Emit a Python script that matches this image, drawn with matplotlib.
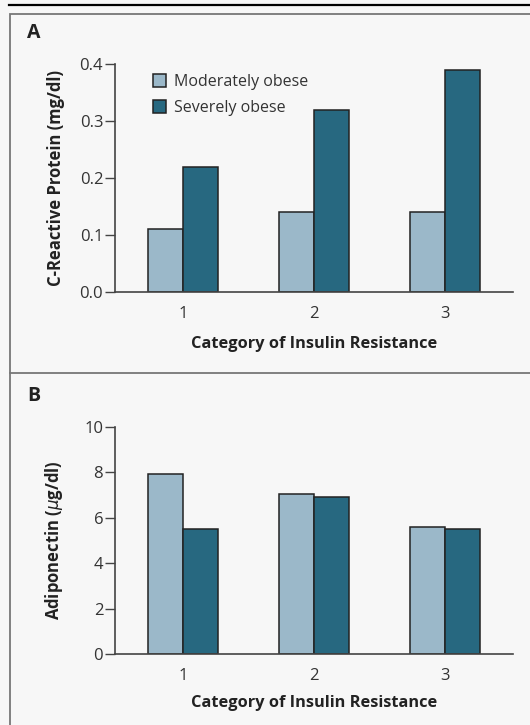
import matplotlib.pyplot as plt
from matplotlib.lines import Line2D
from matplotlib.patches import Rectangle

plt.rcParams['font.family'] = ['Open Sans', 'DejaVu Sans']

categories = [1, 2, 3]
groups = ['Moderately obese', 'Severely obese']
crp_moderate = [0.11, 0.14, 0.14]
crp_severe = [0.22, 0.32, 0.39]
adipo_moderate = [7.95, 7.05, 5.6]
adipo_severe = [5.5, 6.9, 5.5]

light = '#9bb8c9'
dark = '#276880'
bg = '#f7f7f7'
axcol = '#444444'

fig = plt.figure(figsize=(5.3, 7.25), dpi=100)
fig.patch.set_facecolor(bg)

# panel frames
fig.add_artist(Line2D([9/530, 1], [1-5/725, 1-5/725], color='black', lw=1.6))
fig.add_artist(Rectangle((10/530, -0.1), 1, 1-14/725+0.1, fill=False,
                         edgecolor='#777777', lw=1.3))
fig.add_artist(Line2D([10/530, 1], [1-373/725, 1-373/725], color='#777777', lw=1.3))

ax1 = fig.add_axes([115/530, 1-292/725, 398/530, 228/725])
ax2 = fig.add_axes([115/530, 1-654/725, 398/530, 227/725])

w = 0.267
for ax, mod, sev in [(ax1, crp_moderate, crp_severe), (ax2, adipo_moderate, adipo_severe)]:
    ax.set_facecolor(bg)
    xs = list(categories)
    ax.bar([x - w/2 for x in xs], mod, w, color=light, edgecolor='#222222', lw=1.1, label=groups[0])
    ax.bar([x + w/2 for x in xs], sev, w, color=dark, edgecolor='#222222', lw=1.1, label=groups[1])
    ax.set_xlim(0.48, 3.52)
    ax.set_xticks(categories)
    ax.tick_params(axis='x', length=0, pad=10, labelsize=12, colors='#333333')
    ax.tick_params(axis='y', length=7, width=1, pad=1.5, labelsize=12, colors='#333333',
                   color=axcol)
    for s in ['top', 'right']:
        ax.spines[s].set_visible(False)
    for s in ['left', 'bottom']:
        ax.spines[s].set_color(axcol)
        ax.spines[s].set_linewidth(1.2)
    ax.set_xlabel('Category of Insulin Resistance', fontsize=11.8, fontweight='bold',
                  color='#222222')
    ax.xaxis.label.set_verticalalignment('center')

ax1.set_ylim(0, 0.4)
ax1.set_yticks([0.0, 0.1, 0.2, 0.3, 0.4])
ax1.set_yticklabels(['0.0', '0.1', '0.2', '0.3', '0.4'])
ax1.set_ylabel('C-Reactive Protein (mg/dl)', fontsize=12, fontweight='bold',
               color='#222222')
ax1.yaxis.label.set_verticalalignment('center')
ax1.yaxis.set_label_coords(-0.149, 0.5)
ax1.xaxis.set_label_coords(0.501, -0.226)
ax1.legend(loc='upper left', bbox_to_anchor=(0.075, 0.99), frameon=False, fontsize=11.5,
           borderpad=0, handlelength=0.85, handleheight=0.85, handletextpad=0.45,
           labelspacing=0.6, labelcolor='#333333')

ax2.set_ylim(0, 10)
ax2.set_yticks([0, 2, 4, 6, 8, 10])
ax2.set_ylabel('Adiponectin ($\\mu$g/dl)', fontsize=12, fontweight='bold',
               color='#222222')
ax2.yaxis.label.set_verticalalignment('center')
ax2.yaxis.set_label_coords(-0.154, 0.5)
ax2.xaxis.set_label_coords(0.501, -0.218)

fig.text(27/530, 1-33/725, 'A', fontsize=14, fontweight='bold', va='center', color='#222222')
fig.text(27/530, 1-396/725, 'B', fontsize=14, fontweight='bold', va='center', color='#222222')

fig.savefig('out.png', dpi=100, facecolor=bg)
